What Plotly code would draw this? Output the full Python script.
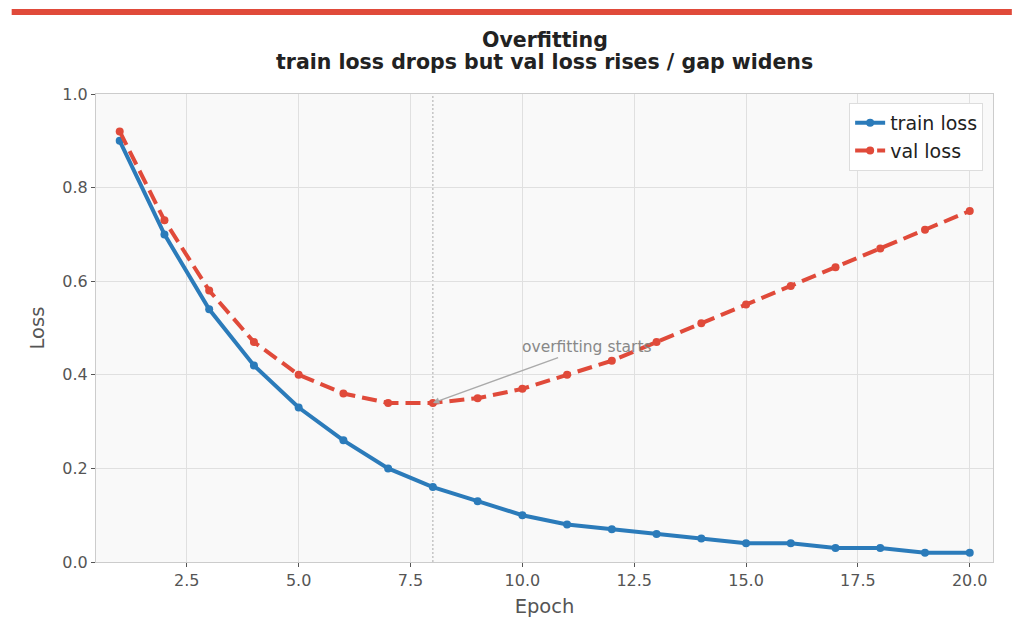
import plotly.graph_objects as go

epochs = list(range(1, 21))
train_loss = [0.90, 0.70, 0.54, 0.42, 0.33, 0.26, 0.20, 0.16, 0.13, 0.10,
              0.08, 0.07, 0.06, 0.05, 0.04, 0.04, 0.03, 0.03, 0.02, 0.02]
val_loss = [0.92, 0.73, 0.58, 0.47, 0.40, 0.36, 0.34, 0.34, 0.35, 0.37,
            0.40, 0.43, 0.47, 0.51, 0.55, 0.59, 0.63, 0.67, 0.71, 0.75]
x_ticks = [2.5, 5.0, 7.5, 10.0, 12.5, 15.0, 17.5, 20.0]
y_ticks = [0.0, 0.2, 0.4, 0.6, 0.8, 1.0]
overfit_epoch = 8
overfit_val = 0.34
title_lines = ["Overfitting", "train loss drops but val loss rises / gap widens"]

BLUE = "#2b7bba"
RED = "#e04a3a"
FONT = "DejaVu Sans"

fig = go.Figure()
fig.add_trace(go.Scatter(x=epochs, y=train_loss, mode="lines+markers", name="train loss",
                         line=dict(color=BLUE, width=4), marker=dict(size=8, color=BLUE)))
fig.add_trace(go.Scatter(x=epochs, y=val_loss, mode="lines+markers", name="val loss",
                         line=dict(color=RED, width=4, dash="15px,7px"), marker=dict(size=8, color=RED)))

fig.add_shape(type="line", xref="x", yref="paper", x0=overfit_epoch, x1=overfit_epoch, y0=0, y1=1,
              line=dict(color="#aaaaaa", width=1, dash="2px,2px"), layer="below")
# top red bar
fig.add_shape(type="rect", xref="paper", yref="paper", x0=-0.094, x1=1.021, y0=1.1688, y1=1.1816,
              line=dict(width=0), fillcolor=RED)

# title lines
for txt, yy in zip(title_lines, [1.115, 1.068]):
    fig.add_annotation(xref="paper", yref="paper", x=0.5, y=yy, xanchor="center", yanchor="middle",
                       text=f"<b>{txt}</b>", showarrow=False,
                       font=dict(family=FONT, size=20.5, color="#222222"))

fig.add_annotation(x=overfit_epoch, y=overfit_val, ax=11.45, ay=0.459, axref="x", ayref="y",
                   text="overfitting starts", showarrow=True, arrowhead=2, arrowsize=1,
                   arrowwidth=1.3, arrowcolor="#aaaaaa", font=dict(family=FONT, size=15.5, color="#888888"))

fig.update_layout(
    width=1024, height=630,
    margin=dict(l=96, r=31, t=94, b=68),
    paper_bgcolor="white", plot_bgcolor="#f9f9f9",
    font=dict(family=FONT, color="#555555", size=16),
    legend=dict(x=0.989, y=0.981, xanchor="right", yanchor="top", bgcolor="white",
                bordercolor="#dddddd", borderwidth=1, font=dict(family=FONT, size=19, color="#222222")),
    showlegend=True,
)
fig.update_xaxes(range=[0.47, 20.52], tickvals=x_ticks, ticktext=[f"{v:.1f}" for v in x_ticks],
                 showgrid=True, gridcolor="#e0e0e0", zeroline=False,
                 showline=True, linecolor="#cccccc", mirror=True, ticks="outside", ticklen=4,
                 tickcolor="#555555", tickfont=dict(family=FONT, size=16, color="#555555"),
                 title=dict(text="Epoch", font=dict(family=FONT, size=19.5, color="#555555"), standoff=10))
fig.update_yaxes(range=[0, 1], tickvals=y_ticks, ticktext=[f"{v:.1f}" for v in y_ticks],
                 showgrid=True, gridcolor="#e0e0e0", zeroline=False,
                 showline=True, linecolor="#cccccc", mirror=True, ticks="outside", ticklen=4,
                 tickcolor="#555555", tickfont=dict(family=FONT, size=16, color="#555555"),
                 title=dict(text="Loss", font=dict(family=FONT, size=19.5, color="#555555"), standoff=12))

fig.write_html("out.html")
